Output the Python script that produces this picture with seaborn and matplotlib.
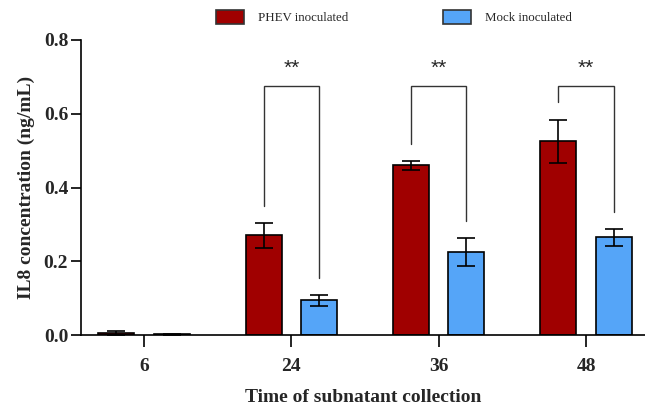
import matplotlib
matplotlib.use("Agg")
import matplotlib.pyplot as plt
import matplotlib.patches as mpatches
from matplotlib.container import BarContainer
import seaborn as sns
import pandas as pd
import numpy as np

times = ["6", "24", "36", "48"]
groups = ["PHEV inoculated", "Mock inoculated"]
phev_mean = [0.005, 0.270, 0.460, 0.525]
phev_err = [0.005, 0.033, 0.013, 0.058]
mock_mean = [0.002, 0.094, 0.225, 0.265]
mock_err = [0.001, 0.014, 0.039, 0.023]
sig_times = ["24", "36", "48"]
sig_labels = ["**", "**", "**"]

colors = ["#A00000", "#55A5F8"]

sns.set_theme(style="ticks")
plt.rcParams["font.family"] = ["Liberation Serif", "DejaVu Serif"]

df = pd.DataFrame({
    "time": times * 2,
    "group": [groups[0]] * 4 + [groups[1]] * 4,
    "value": phev_mean + mock_mean,
})

fig = plt.figure(figsize=(6.45, 4.09), dpi=100)
ax = fig.add_axes([80.7 / 645, 74 / 409, 1 - 80.7 / 645, 295 / 409])

sns.barplot(data=df, x="time", y="value", hue="group", order=times,
            hue_order=groups, palette=colors, width=0.752, gap=0.35,
            errorbar=None, edgecolor="black", linewidth=1.2, ax=ax,
            legend=False, saturation=1)

bar_conts = [c for c in ax.containers if isinstance(c, BarContainer)]
errs = [phev_err, mock_err]
centers = []
for ci, cont in enumerate(bar_conts):
    xs = [b.get_x() + b.get_width() / 2 for b in cont]
    hs = [b.get_height() for b in cont]
    centers.append(xs)
    ax.errorbar(xs, hs, yerr=errs[ci], fmt="none", ecolor="black",
                elinewidth=1.2, capsize=6.5, capthick=1.2, zorder=5)

# significance brackets
bracket_top = 0.676
left_leg = [0.350, 0.518, 0.631]
right_leg = [0.154, 0.310, 0.334]
for k, t in enumerate(sig_times):
    i = times.index(t)
    x1 = centers[0][i]
    x2 = centers[1][i]
    ax.plot([x1, x1, x2, x2], [left_leg[k], bracket_top, bracket_top, right_leg[k]],
            color="#333333", lw=1.0, solid_joinstyle="miter")
    ax.text((x1 + x2) / 2, 0.722, sig_labels[k], ha="center", va="center",
            fontsize=15, family=["Liberation Sans", "DejaVu Sans"])

ax.set_xlim(-0.43, 3.40)
ax.set_ylim(0, 0.8)
ax.set_yticks([0.0, 0.2, 0.4, 0.6, 0.8])
ax.set_yticklabels([f"{v:.1f}" for v in [0.0, 0.2, 0.4, 0.6, 0.8]])
ax.set_xticks(range(len(times)))
ax.set_xticklabels(times)

for lab in ax.get_yticklabels() + ax.get_xticklabels():
    lab.set_fontweight("bold")
    lab.set_fontsize(14)

ax.tick_params(axis="y", length=7, width=1.2, color="black", pad=2)
ax.tick_params(axis="x", length=8.5, width=1.2, color="black", pad=8)

sns.despine(ax=ax)
for s in ["left", "bottom"]:
    ax.spines[s].set_linewidth(1.2)
    ax.spines[s].set_color("black")

ax.set_xlabel("Time of subnatant collection", fontsize=14, fontweight="bold", labelpad=10)
ax.set_ylabel("IL8 concentration (ng/mL)", fontsize=14, fontweight="bold", labelpad=6)

handles = [mpatches.Patch(facecolor=colors[i], edgecolor="#333333", linewidth=1.2, label=groups[i])
           for i in range(2)]
fig.legend(handles=handles, loc="upper left", bbox_to_anchor=(216 / 645, 1 - 10 / 409),
           ncol=2, frameon=False, fontsize=9.3, handlelength=2.17, handleheight=1.24,
           handletextpad=1.08, columnspacing=7.3, borderaxespad=0, borderpad=0)

fig.savefig("out.png", dpi=100)
